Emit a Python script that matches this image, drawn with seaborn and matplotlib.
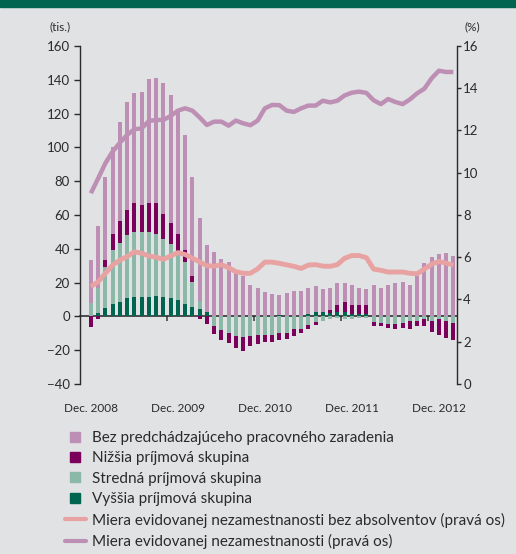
import numpy as np
import pandas as pd
import matplotlib
matplotlib.use("Agg")
import matplotlib.pyplot as plt
import seaborn as sns
from matplotlib.lines import Line2D

# ---------------- data ----------------
tick_labels = ["Dec. 2008", "Dec. 2009", "Dec. 2010", "Dec. 2011", "Dec. 2012"]

vyssia = [0, 1.9, 5.1, 7.4, 8.6, 10.6, 11.7, 11.7, 11.7, 12.1, 11.7, 10.6, 9.8, 7.5, 5.7, 4.5, 2.8,
          0, 0, 0, 0, 0, 0, 0, 0, 0,
          1.0, 0, 0, 0,
          1.5, 2.7, 2.7, 2.2, 2.8, 2.8, 1.5, 1.5, 1.5,
          0, 0, 0, 0, 0, 0, 0, 0, 0, 0, 0, 0]
stredna = [7.8, 15.1, 24.4, 32.0, 34.9, 37.7, 38.3, 38.3, 38.3, 36.7, 34.1, 32.3, 29.1, 24.5, 14.8, 4.4, 0,
           -5.5, -7.8, -9.7, -11.4, -12.3, -11.4, -10.8, -10.8, -10.8,
           -9.9, -9.6, -7.5, -7.2, -5.0, -3.5, -2.8, -1.8, -1.2, -1.6, -1.6, -1.2, -0.8,
           -3.5, -4.0, -4.3, -4.5, -4.2, -3.0, -2.7, -1.8, -2.8, -1.5, -2.6, -3.7]
nizsia = [-6.5, -1.3, 3.9, 9.6, 12.7, 14.5, 17.1, 16.0, 17.1, 18.3, 14.9, 12.6, 10.0, 7.4, 3.7, -1.3, -4.6,
          -4.8, -6.4, -6.2, -7.5, -7.9, -6.4, -5.8, -4.6, -4.6,
          -4.3, -3.5, -3.9, -2.9, -2.2, -1.4, 0, 1.7, 4.0, 5.8, 5.3, 5.3, 5.3,
          -2.0, -1.6, -2.3, -2.8, -2.6, -4.2, -2.9, -3.7, -6.3, -9.3, -10.1, -10.0]
bez = [25.6, 36.2, 49.3, 51.0, 59.1, 64.2, 65.0, 66.9, 73.4, 74.0, 77.5, 75.6, 72.1, 68.0, 58.5, 49.5, 39.6,
       37.9, 34.1, 32.0, 25.6, 24.0, 18.7, 16.9, 14.7, 13.4,
       11.8, 13.6, 15.3, 15.3, 15.5, 15.3, 13.8, 13.1, 13.2, 11.4, 11.8, 10.1, 9.5,
       18.5, 16.8, 18.6, 20.0, 20.5, 18.6, 24.2, 31.7, 35.2, 36.8, 37.6, 35.8]

rate_total = [9.03, 9.73, 10.45, 11.0, 11.42, 11.79, 12.06, 12.1, 12.45, 12.5,
              12.5, 12.69, 12.94, 13.05, 12.94, 12.62, 12.26, 12.42, 12.42, 12.23,
              12.47, 12.34, 12.25, 12.47, 13.05, 13.21, 13.2, 12.94, 12.88, 13.05,
              13.18, 13.18, 13.41, 13.33, 13.41, 13.66, 13.79, 13.84, 13.78, 13.43,
              13.25, 13.49, 13.35, 13.25, 13.47, 13.76, 13.98, 14.47, 14.83, 14.77, 14.77]
rate_bez_abs = [4.61, 4.84, 5.24, 5.63, 5.87, 6.03, 6.26, 6.19, 6.06, 6.0,
                5.9, 6.06, 6.22, 6.13, 5.96, 5.78, 5.6, 5.58, 5.65, 5.5,
                5.32, 5.24, 5.24, 5.45, 5.77, 5.77, 5.71, 5.64, 5.57, 5.47,
                5.63, 5.65, 5.58, 5.57, 5.65, 5.95, 6.08, 6.08, 5.98, 5.44,
                5.38, 5.3, 5.3, 5.3, 5.24, 5.22, 5.44, 5.67, 5.8, 5.72, 5.63]

labels = ["Bez predchádzajúceho pracovného zaradenia",
          "Nižšia príjmová skupina",
          "Stredná príjmová skupina",
          "Vyššia príjmová skupina",
          "Miera evidovanej nezamestnanosti bez absolventov (pravá os)",
          "Miera evidovanej nezamestnanosti (pravá os)"]

# ---------------- styling ----------------
BG = "#e1e2e4"
C_BEZ = "#be8fb4"
C_NIZ = "#7a005c"
C_STR = "#8cb8a8"
C_VYS = "#006450"
C_LINE1 = "#e8a2a2"
C_LINE2 = "#be8fb4"
TXT = "#2a2a2a"

sns.set_theme(style="white")
plt.rcParams["font.family"] = ["Lato", "DejaVu Sans"]

n = len(bez)
idx = np.arange(n)
vy = np.array(vyssia); st = np.array(stredna); ni = np.array(nizsia); bz = np.array(bez)

pos1 = np.clip(vy, 0, None)
pos2 = pos1 + np.clip(st, 0, None)
pos3 = pos2 + np.clip(ni, 0, None)
pos4 = pos3 + bz
neg1 = np.clip(vy, None, 0)
neg2 = neg1 + np.clip(st, None, 0)
neg3 = neg2 + np.clip(ni, None, 0)

df = pd.DataFrame({"i": idx, "pos1": pos1, "pos2": pos2, "pos3": pos3, "pos4": pos4,
                   "neg1": neg1, "neg2": neg2, "neg3": neg3,
                   "rt": rate_total, "rb": rate_bez_abs})

fig = plt.figure(figsize=(5.16, 5.54), dpi=100, facecolor=BG)
ax = fig.add_axes([80 / 516, 1 - 384 / 554, (457 - 80) / 516, (384 - 46) / 554])
ax.set_facecolor(BG)

W = 0.55
for col, c in [("pos4", C_BEZ), ("pos3", C_NIZ), ("pos2", C_STR), ("pos1", C_VYS),
               ("neg3", C_NIZ), ("neg2", C_STR), ("neg1", C_VYS)]:
    sns.barplot(data=df, x="i", y=col, color=c, width=W, saturation=1,
                linewidth=0, errorbar=None, ax=ax)

ax.set_xlim(-1.5, 50.5)
ax.set_ylim(-40, 160)
ax.set_yticks(np.arange(-40, 161, 20))
ax.set_xticks([0, 12, 24, 36, 48])
ax.set_xticklabels(tick_labels)
ax.set_xlabel("")
ax.set_ylabel("")
for s in ["top", "right", "bottom"]:
    ax.spines[s].set_visible(False)
ax.spines["left"].set_color(TXT)
ax.spines["left"].set_linewidth(1.0)
ax.tick_params(axis="y", direction="out", length=4.3, width=1, color=TXT,
               pad=3, labelsize=9.5, labelcolor=TXT, left=True)
ax.tick_params(axis="x", length=0, pad=14, labelsize=8.5, labelcolor=TXT)

# zero line with small ticks
sec = ax.secondary_xaxis(0.2)
sec.set_xticks([10.5, 22.5, 34.5, 46.5])
sec.set_xticklabels([])
sec.tick_params(direction="out", length=3.5, width=1.2, color="#444444")
sec.spines["bottom"].set_color("#222222")
sec.spines["bottom"].set_linewidth(1.1)

ax2 = ax.twinx()
sns.lineplot(data=df, x="i", y="rb", color=C_LINE1, linewidth=3.5, ax=ax2,
             solid_capstyle="butt")
sns.lineplot(data=df, x="i", y="rt", color=C_LINE2, linewidth=3.2, ax=ax2,
             solid_capstyle="butt")
ax2.set_ylim(0, 16)
ax2.set_xlim(-1.5, 50.5)
ax2.set_yticks(np.arange(0, 17, 2))
ax2.set_ylabel("")
ax2.set_xlabel("")
for s in ["top", "left", "bottom"]:
    ax2.spines[s].set_visible(False)
ax2.spines["right"].set_color(TXT)
ax2.spines["right"].set_linewidth(1.0)
ax2.tick_params(axis="y", direction="out", length=3, width=1, color=TXT,
                pad=1.5, labelsize=9.5, labelcolor=TXT, right=True)

fig.text(60 / 516, 1 - 27 / 554, "(tis.)", ha="center", va="center", fontsize=8.5, color=TXT)
fig.text(472 / 516, 1 - 27 / 554, "(%)", ha="center", va="center", fontsize=8.5, color=TXT)

# top band
fig.patches.append(plt.Rectangle((0, 1 - 7 / 554), 1, 7 / 554, transform=fig.transFigure,
                                 color=C_VYS, zorder=10))

handles = [Line2D([], [], marker="s", linestyle="none", markersize=7, color=C_BEZ),
           Line2D([], [], marker="s", linestyle="none", markersize=7, color=C_NIZ),
           Line2D([], [], marker="s", linestyle="none", markersize=7, color=C_STR),
           Line2D([], [], marker="s", linestyle="none", markersize=7, color=C_VYS),
           Line2D([], [], color=C_LINE1, linewidth=3),
           Line2D([], [], color=C_LINE2, linewidth=3)]
fig.legend(handles, labels, loc="upper left", bbox_to_anchor=(65 / 516, 1 - 431 / 554),
           frameon=False, fontsize=11, handlelength=1.35, handletextpad=0.4,
           labelspacing=0.42, borderpad=0, borderaxespad=0, labelcolor=TXT)

fig.savefig("out.png", dpi=100, facecolor=BG)
